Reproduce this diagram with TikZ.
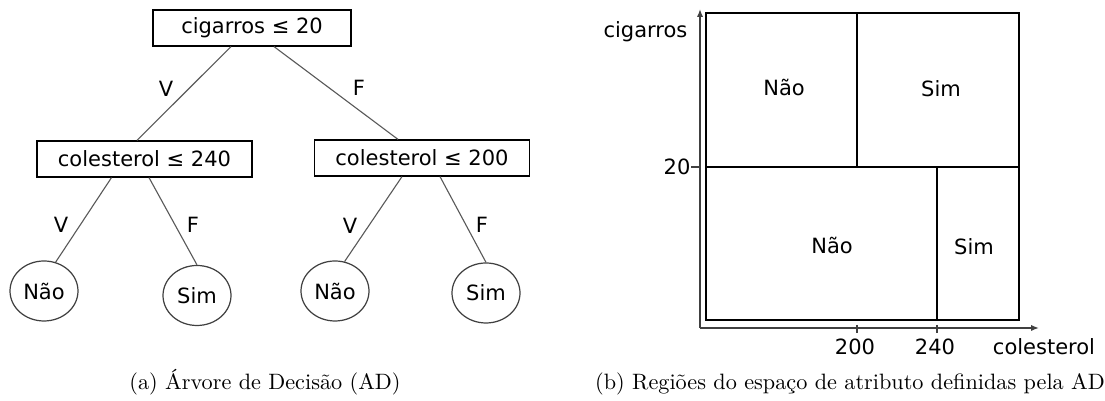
\documentclass[tikz,border=0pt]{standalone}
\usepackage{fontspec}
\usetikzlibrary{shapes.geometric,calc,arrows.meta}
\newfontfamily\dejavu{DejaVu Sans}

\tikzset{
  test/.style={draw, line width=0.55pt, inner sep=0pt, minimum height=16.2pt,
    font=\dejavu\fontsize{9.45}{11}\selectfont},
  leaf/.style={ellipse, draw=black!75, line width=0.55pt, inner sep=0pt,
    minimum width=30.6pt, minimum height=27pt, font=\dejavu\fontsize{9.45}{11}\selectfont},
  lbl/.style={inner sep=0pt, text=black, font=\dejavu\fontsize{9.45}{11}\selectfont},
  branch/.style={black!65, line width=0.5pt},
  axis/.style={black!75, line width=0.6pt},
  region/.style={line width=0.9pt},
}

\begin{document}
\begin{tikzpicture}[>={Latex[length=3.6pt,width=2.8pt]}, x=0.45pt, y=-0.45pt]
  \useasboundingbox (0,0) rectangle (1105,401);

  % Tests
  \node[test, minimum width=89.1pt] (root) at (252,28) {cigarros ≤ 20};
  \node[test, minimum width=96.75pt] (c240) at (144.5,159) {colesterol ≤ 240};
  \node[test, minimum width=96.75pt] (c200) at (422,158) {colesterol ≤ 200};
  % Leaves
  \node[leaf] (nao1) at (44,291) {Não};
  \node[leaf] (sim1) at (197,295.5) {Sim};
  \node[leaf] (nao2) at (335,291) {Não};
  \node[leaf] (sim2) at (486,293) {Sim};

  % Branches
  \draw[branch] ($(root.south)+(-21,0)$) -- ($(c240.north)+(-7.5,0)$);
  \draw[branch] ($(root.south)+(22,0)$) -- ($(c200.north)+(-24,0)$);
  \draw[branch] ($(c240.south)+(-33,0)$) -- (nao1.68);
  \draw[branch] ($(c240.south)+(4.5,0)$) -- (sim1.north);
  \draw[branch] ($(c200.south)+(-20,0)$) -- (nao2.72);
  \draw[branch] ($(c200.south)+(18,0)$) -- (sim2.north);
  % Branch labels
  \node[lbl] (v1) at (166,89) {V};
  \node[lbl] (f1) at (359,88) {F};
  \node[lbl] (v2) at (61,225) {V};
  \node[lbl] (f2) at (193,225) {F};
  \node[lbl] (v3) at (350,226) {V};
  \node[lbl] (f3) at (482,225) {F};

  % Attribute space: axes
  \coordinate (o) at (700,328);
  \coordinate (ytop) at (700,9);
  \coordinate (xend) at (1039,328);
  \draw[->, axis] (o) -- (ytop);
  \draw[->, axis] (o) -- (xend);
  \node[lbl] (ylab) at (645.5,32) {cigarros};
  \node[lbl] (xlab) at (1044,347) {colesterol};
  % Ticks
  \draw[axis] (691,167) -- (700,167);
  \draw[axis] (857,325) -- (857,333);
  \draw[axis] (937,325) -- (937,333);
  \node[lbl] (t20) at (677,167) {20};
  \node[lbl] (t200) at (855,347) {200};
  \node[lbl] (t240) at (935,347) {240};
  % Regions
  \draw[region] (706,13) rectangle (1019,320);
  \draw[region] (706,167) -- (1019,167);
  \draw[region] (857,13) -- (857,167);
  \draw[region] (937,167) -- (937,320);
  \node[lbl] (r1) at (784,88) {Não};
  \node[lbl] (r2) at (941,89) {Sim};
  \node[lbl] (r3) at (832,246) {Não};
  \node[lbl] (r4) at (974,247) {Sim};

  % Captions
  \node[anchor=base] (capa) at (265,390) {(a) Árvore de Decisão (AD)};
  \node[anchor=base] (capb) at (850,390) {(b) Regiões do espaço de atributo definidas pela AD};
\end{tikzpicture}
\end{document}
